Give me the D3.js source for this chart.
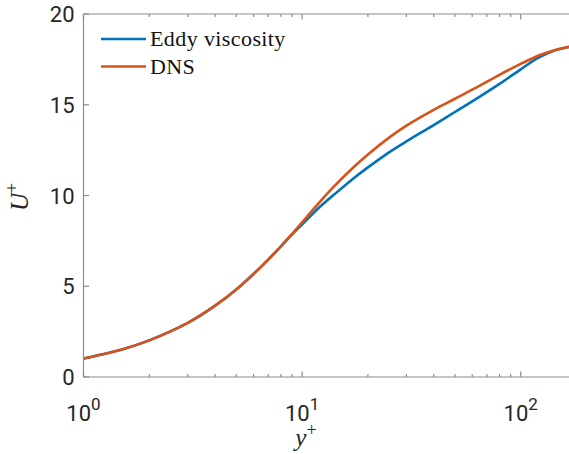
<!DOCTYPE html>
<html>
<head>
<meta charset="utf-8">
<script src="https://cdn.jsdelivr.net/npm/d3@7"></script>
<style>
  html, body { margin: 0; padding: 0; background: #fff; }
  svg { display: block; }
</style>
</head>
<body>
<svg id="chart" width="569" height="454"></svg>
<script>
// ---- data ----
const yPlus = [1, 1.5, 2, 3, 4, 5, 6, 7, 8, 9, 10, 12, 14, 17, 20, 25, 30, 40, 50, 65, 80, 100, 120, 140, 160, 180];
const eddyViscosity = [1.02, 1.52, 2.02, 2.98, 3.93, 4.82, 5.68, 6.47, 7.2, 7.86, 8.4, 9.35, 10.05, 10.9, 11.55, 12.38, 12.98, 13.88, 14.6, 15.45, 16.15, 16.95, 17.58, 17.95, 18.14, 18.25];
const dns           = [1.02, 1.52, 2.02, 2.98, 3.93, 4.82, 5.68, 6.47, 7.2, 7.88, 8.52, 9.62, 10.5, 11.5, 12.26, 13.19, 13.85, 14.72, 15.33, 16.05, 16.65, 17.25, 17.7, 17.98, 18.15, 18.25];
const seriesNames = ["Eddy viscosity", "DNS"];
const seriesColors = ["#0072BD", "#D95319"];
const yTicks = [0, 5, 10, 15, 20];
const xMajorTicks = [1, 10, 100];
const xMinorTicks = [2,3,4,5,6,7,8,9,20,30,40,50,60,70,80,90,200];

(function () {
// ---- layout ----
const svg = d3.select("#chart");
const left = 83.5, topY = 14, bottom = 377;
const decade = 218.6;
const x = d3.scaleLog().domain([1, 180]).range([left, left + decade * Math.log10(180)]);
const y = d3.scaleLinear().domain([0, 20]).range([bottom, topY]);
const axisColor = "#8c8c8c";
const textColor = "#262626";

const plotRight = x.range()[1];

// clip
svg.append("defs").append("clipPath").attr("id", "clip")
  .append("rect").attr("x", left).attr("y", topY).attr("width", plotRight - left).attr("height", bottom - topY);

// lines
const series = [eddyViscosity, dns];
const line = d3.line().x(d => x(d[0])).y(d => y(d[1])).curve(d3.curveCatmullRom.alpha(0.5));
const g = svg.append("g").attr("clip-path", "url(#clip)");
series.forEach((vals, i) => {
  g.append("path")
    .datum(yPlus.map((v, j) => [v, vals[j]]))
    .attr("d", line)
    .attr("fill", "none")
    .attr("stroke", seriesColors[i])
    .attr("stroke-width", 2.6)
    .attr("stroke-linejoin", "round")
    .attr("stroke-linecap", "round");
});

// axes box
const axes = svg.append("g").attr("stroke", axisColor).attr("stroke-width", 1.2).attr("fill", "none");
axes.append("line").attr("x1", left).attr("x2", left).attr("y1", topY).attr("y2", bottom);
axes.append("line").attr("x1", left).attr("x2", plotRight).attr("y1", bottom).attr("y2", bottom);
axes.append("line").attr("x1", left).attr("x2", plotRight).attr("y1", topY).attr("y2", topY);
axes.append("line").attr("x1", plotRight).attr("x2", plotRight).attr("y1", topY).attr("y2", bottom);

// x ticks (inside, bottom and top)
xMajorTicks.forEach(t => {
  axes.append("line").attr("x1", x(t)).attr("x2", x(t)).attr("y1", bottom).attr("y2", bottom - 5.5);
  axes.append("line").attr("x1", x(t)).attr("x2", x(t)).attr("y1", topY).attr("y2", topY + 5.5);
});
xMinorTicks.forEach(t => {
  axes.append("line").attr("x1", x(t)).attr("x2", x(t)).attr("y1", bottom).attr("y2", bottom - 3);
  axes.append("line").attr("x1", x(t)).attr("x2", x(t)).attr("y1", topY).attr("y2", topY + 3);
});
// y ticks
yTicks.forEach(t => {
  axes.append("line").attr("x1", left).attr("x2", left + 5.5).attr("y1", y(t)).attr("y2", y(t));
  axes.append("line").attr("x1", plotRight).attr("x2", plotRight - 5.5).attr("y1", y(t)).attr("y2", y(t));
});

// y tick labels
yTicks.forEach(t => {
  svg.append("text")
    .attr("x", left - 9).attr("y", y(t) + 8)
    .attr("text-anchor", "end")
    .attr("font-family", "Roboto, sans-serif")
    .attr("font-size", 22)
    .attr("fill", textColor)
    .text(t);
});

// x tick labels 10^n
xMajorTicks.forEach(t => {
  const txt = svg.append("text")
    .attr("x", x(t)).attr("y", 421)
    .attr("text-anchor", "middle")
    .attr("font-family", "Roboto, sans-serif")
    .attr("font-size", 22)
    .attr("fill", textColor);
  txt.append("tspan").text("10");
  txt.append("tspan").attr("dy", -11).attr("font-size", 17).text(Math.round(Math.log10(t)));
});

// axis labels
const xl = svg.append("text")
  .attr("x", 306).attr("y", 446)
  .attr("text-anchor", "middle")
  .attr("font-family", "'Liberation Serif', serif")
  .attr("font-size", 25)
  .attr("fill", textColor);
xl.append("tspan").attr("font-style", "italic").text("y");
xl.append("tspan").attr("dy", -10).attr("font-size", 18).text("+");

const yl = svg.append("text")
  .attr("transform", "translate(28,197) rotate(-90)")
  .attr("text-anchor", "middle")
  .attr("font-family", "'Liberation Serif', serif")
  .attr("font-size", 25)
  .attr("fill", textColor);
yl.append("tspan").attr("font-style", "italic").text("U");
yl.append("tspan").attr("dy", -10).attr("font-size", 18).text("+");

// legend
const legY = [39, 66.5];
seriesNames.forEach((name, i) => {
  svg.append("line")
    .attr("x1", 101).attr("x2", 146)
    .attr("y1", legY[i]).attr("y2", legY[i])
    .attr("stroke", seriesColors[i]).attr("stroke-width", 2.6);
  svg.append("text")
    .attr("x", 150).attr("y", legY[i] + 7)
    .attr("font-family", "'Liberation Serif', serif")
    .attr("font-size", 22)
    .attr("letter-spacing", 0.4)
    .attr("fill", "#111")
    .text(name);
});
})();
</script>
</body>
</html>
